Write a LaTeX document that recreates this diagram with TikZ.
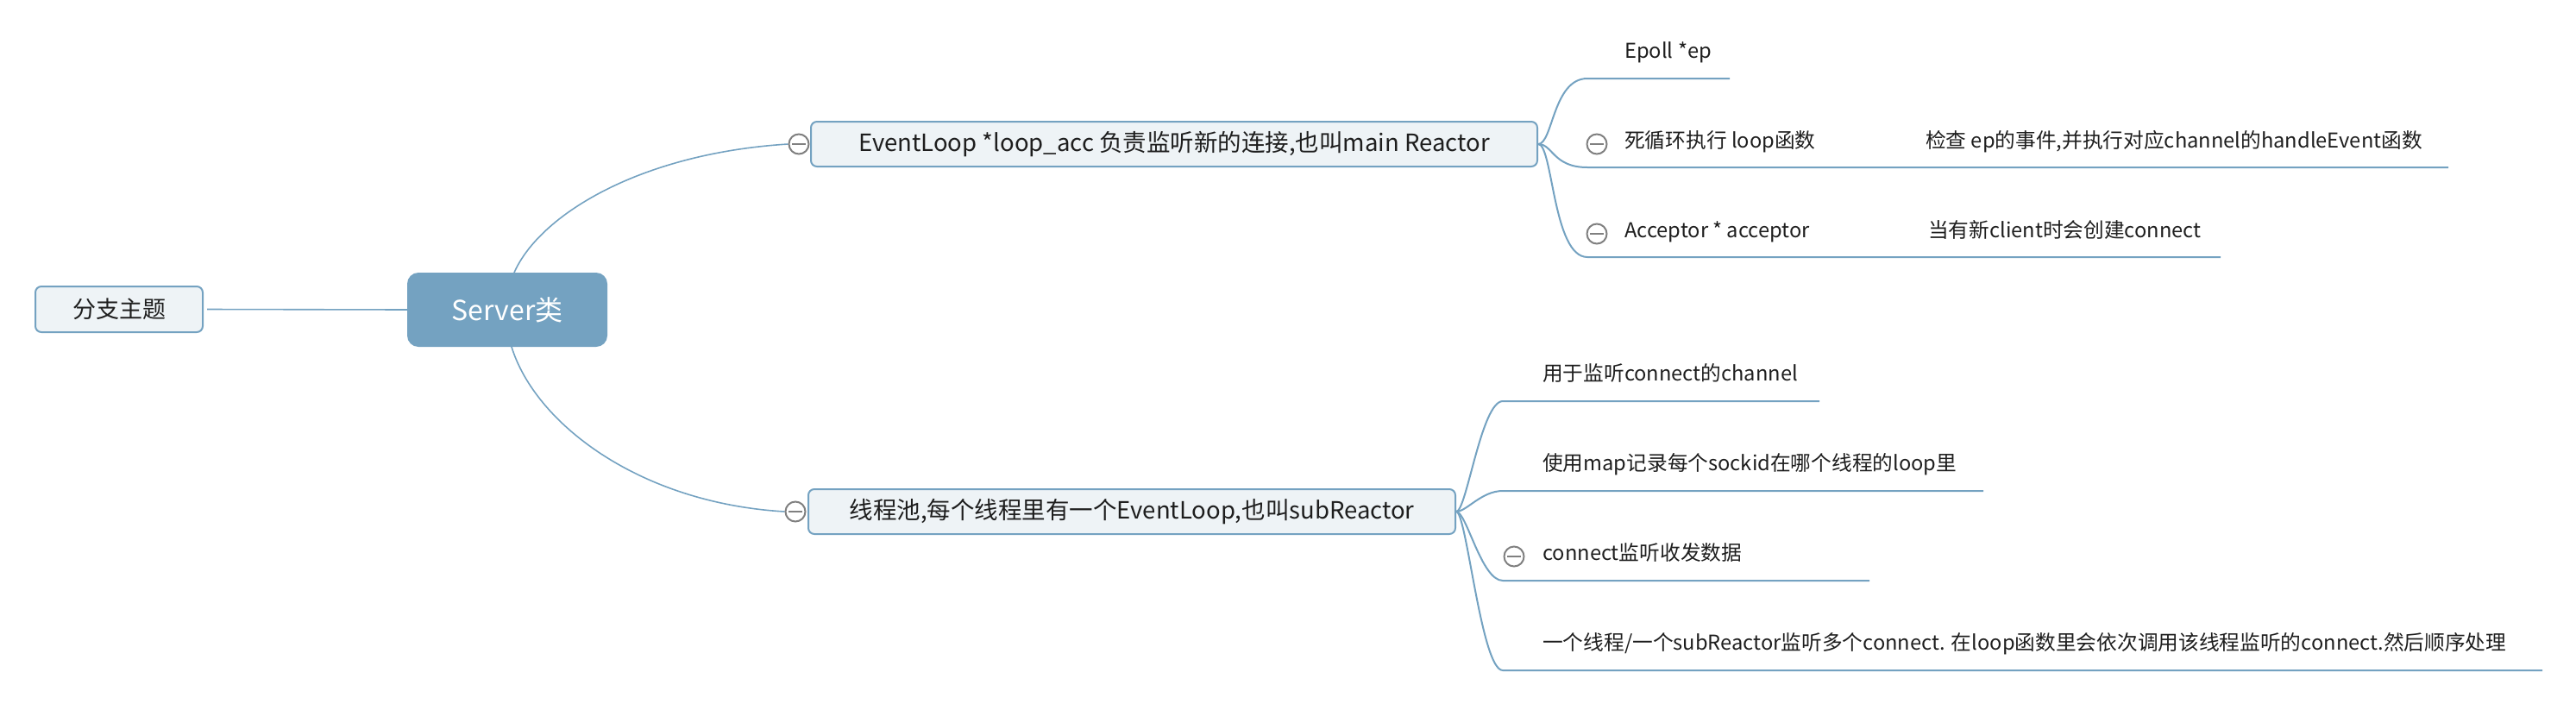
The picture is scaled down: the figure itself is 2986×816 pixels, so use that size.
\documentclass[tikz,border=0pt]{standalone}
\usepackage{fontspec}
\newfontfamily\cjk{Noto Sans CJK SC}
\usetikzlibrary{backgrounds}
\definecolor{xblue}{HTML}{74A2C1}
\definecolor{xfill}{HTML}{EEF3F6}
\definecolor{xgray}{HTML}{808080}
\definecolor{xtext}{HTML}{1E1E1E}
\tikzset{
  conn/.style={draw=xblue, line width=1.6pt},
  uline/.style={draw=xblue, line width=2pt},
  topicbox/.style={draw=xblue, fill=xfill, line width=2pt, rounded corners=7pt, inner sep=0pt,
    font=\cjk\fontsize{27.5}{33}\selectfont, text=xtext},
  rootbox/.style={fill=xblue, rounded corners=13pt, inner sep=0pt, text=white,
    font=\cjk\fontsize{32}{38}\selectfont},
  subtext/.style={font=\cjk\fontsize{23.7}{29}\selectfont, inner sep=0pt, anchor=base west, text=xtext},
  collapse/.style={circle, draw=xgray, fill=white, line width=2pt, minimum size=23pt, inner sep=0pt,
    path picture={\draw[xgray, line width=2pt] ([xshift=-8pt]path picture bounding box.center) -- ([xshift=8pt]path picture bounding box.center);}}
}
\begin{document}
\begin{tikzpicture}[x=1pt, y=-1pt]
\useasboundingbox (0,0) rectangle (2986,816);

% boxes
\node[topicbox, minimum width=194pt, minimum height=53pt, font=\cjk\fontsize{27}{32}\selectfont] (fz) at (138,358.5) {分支主题};
\node[rootbox, minimum width=232pt, minimum height=86pt] (srv) at (588,359) {Server类};
\node[topicbox, minimum width=842pt, minimum height=52pt] (el) at (1361,167) {EventLoop *loop\_acc 负责监听新的连接,也叫main Reactor};
\node[topicbox, minimum width=750pt, minimum height=52pt] (sr) at (1312,593) {线程池,每个线程里有一个EventLoop,也叫subReactor};

% collapse icons
\node[collapse] (ce) at (926,167) {};
\node[collapse] (cs) at (922,593) {};
\node[collapse] (c2) at (1851,167) {};
\node[collapse] (c3) at (1851,271) {};
\node[collapse] (c6) at (1755,645) {};

% texts
\node[subtext] (t1) at (1883,67) {Epoll *ep};
\node[subtext] (t2) at (1883,171) {死循环执行 loop函数};
\node[subtext] (t2a) at (2232,171) {检查 ep的事件,并执行对应channel的handleEvent函数};
\node[subtext] (t3) at (1883,275) {Acceptor * acceptor};
\node[subtext] (t3a) at (2235,275) {当有新client时会创建connect};
\node[subtext] (t4) at (1788,441) {用于监听connect的channel};
\node[subtext] (t5) at (1788,545) {使用map记录每个sockid在哪个线程的loop里};
\node[subtext] (t6) at (1788,649) {connect监听收发数据};
\node[subtext] (t7) at (1788,753) {一个线程/一个subReactor监听多个connect. 在loop函数里会依次调用该线程监听的connect.然后顺序处理};

% anchor coordinates
\coordinate (st) at (596,316);
\coordinate (sb) at (593,402);
\coordinate (u1a) at (1840,91);  \coordinate (u1b) at (2005,91);
\coordinate (u2a) at (1840,194); \coordinate (u2b) at (2838,194);
\coordinate (u3a) at (1840,298); \coordinate (u3b) at (2574,298);
\coordinate (u4a) at (1742,465); \coordinate (u4b) at (2109,465);
\coordinate (u5a) at (1742,569); \coordinate (u5b) at (2299,569);
\coordinate (u6a) at (1742,673); \coordinate (u6b) at (2167,673);
\coordinate (u7a) at (1742,777); \coordinate (u7b) at (2947,777);

\begin{scope}[on background layer]
  \draw[conn, shorten <=4pt] (fz.east) -- (srv.west);
  \draw[conn] (st) .. controls (625,250) and (740,178) .. (ce.west);
  \draw[conn] (sb) .. controls (620,490) and (740,583) .. (cs.west);
  \draw[uline] (el.east) .. controls +(17,0) and +(-40,0) .. (u1a) -- (u1b);
  \draw[uline] (el.east) .. controls +(17,0) and +(-40,0) .. (u2a) -- (u2b);
  \draw[uline] (el.east) .. controls +(17,0) and +(-40,0) .. (u3a) -- (u3b);
  \draw[uline] (sr.east) .. controls +(12,0) and +(-25,0) .. (u4a) -- (u4b);
  \draw[uline] (sr.east) .. controls +(12,0) and +(-25,0) .. (u5a) -- (u5b);
  \draw[uline] (sr.east) .. controls +(12,0) and +(-25,0) .. (u6a) -- (u6b);
  \draw[uline] (sr.east) .. controls +(12,0) and +(-25,0) .. (u7a) -- (u7b);
\end{scope}
\end{tikzpicture}
\end{document}
